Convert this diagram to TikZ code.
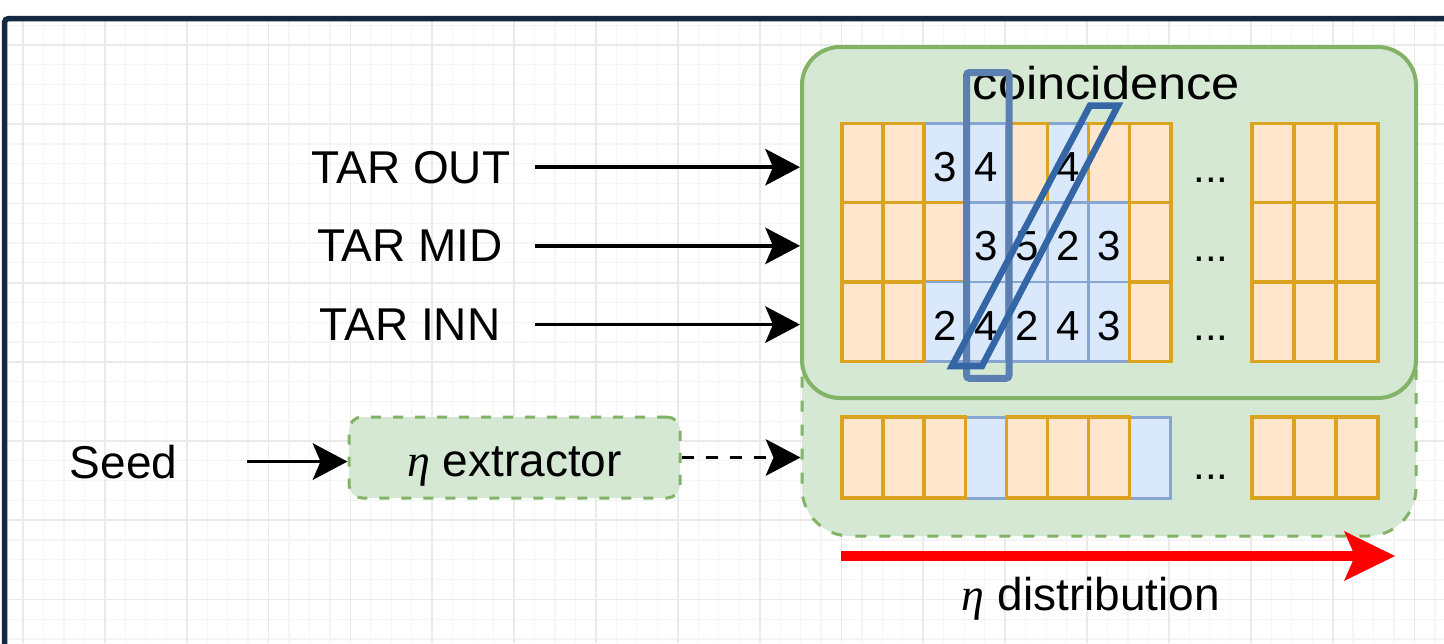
\documentclass[tikz,border=0pt]{standalone}
\usepackage{fontspec}
\setmainfont{Liberation Sans}
\newfontfamily\grkfont{Liberation Serif}
\newcommand{\myeta}{{\grkfont\itshape η}}
\usetikzlibrary{arrows.meta}
\definecolor{gfill}{HTML}{D5E8D4}
\definecolor{gline}{HTML}{82B366}
\definecolor{ofill}{HTML}{FFE6CC}
\definecolor{oline}{HTML}{DBA31F}
\definecolor{bfill}{HTML}{DAE8FC}
\definecolor{bline}{HTML}{86A5D0}
\definecolor{winA}{HTML}{5A7FB0}
\definecolor{winB}{HTML}{3465A4}
\definecolor{framecol}{HTML}{142841}
\definecolor{gridminor}{HTML}{F5F5F5}
\definecolor{gridmajor}{HTML}{EAEAEA}
\begin{document}
\begin{tikzpicture}[x=1pt,y=-1pt,
  lab/.style={font=\fontsize{46}{55}\selectfont, inner sep=0pt},
  arr/.style={line width=3.5pt, -{Stealth[length=35pt,width=37pt,inset=8pt,line width'=0pt]}},
  redarr/.style={draw=red, line width=10pt, -{Stealth[length=51pt,width=50pt,inset=11pt,line width'=0pt]}},
  gsolid/.style={draw=gline, fill=gfill, line width=4pt, rounded corners=38pt, inner sep=0pt},
  gdash/.style={draw=gline, fill=gfill, line width=3pt, dash pattern=on 11pt off 13pt, rounded corners=48pt, inner sep=0pt},
  etabox/.style={draw=gline, fill=gfill, line width=3pt, dash pattern=on 10pt off 12pt, rounded corners=13pt, inner sep=0pt,
     minimum width=331pt, minimum height=81pt, font=\fontsize{46}{55}\selectfont, text height=38.4pt, text depth=0pt},
  ocell/.style={draw=oline, fill=ofill, line width=3.5pt, minimum width=41.1pt, inner sep=0pt},
  bcell/.style={draw=bline, fill=bfill, line width=2.5pt, minimum width=41.1pt, inner sep=0pt,
     font=\fontsize{42}{50}\selectfont, text height=36.8pt, text depth=0pt},
  rowh/.style={minimum height=79.3pt},
  etah/.style={minimum height=81pt},
  dots/.style={font=\fontsize{42}{50}\selectfont, inner sep=0pt, anchor=base},
  win/.style={line width=7pt, rounded corners=3pt, inner sep=0pt}
]
\useasboundingbox (0,0) rectangle (1444,643);
\fill[white] (0,0) rectangle (1444,643);
% background grid
\begin{scope}
  \clip (7,21) rectangle (1444,643);
  \foreach \i in {0,...,71} \draw[gridminor, line width=1.2pt] ({2.54+20.4625*\i},21) -- ({2.54+20.4625*\i},643);
  \foreach \i in {0,...,32} \draw[gridminor, line width=1.2pt] (7,{25.2+19.8*\i}) -- (1444,{25.2+19.8*\i});
  \foreach \k in {0,...,17} \draw[gridmajor, line width=1.8pt] ({23+81.85*\k},21) -- ({23+81.85*\k},643);
  \foreach \k in {0,...,7} \draw[gridmajor, line width=1.8pt] (7,{45+79.2*\k}) -- (1444,{45+79.2*\k});
\end{scope}
% frame
\begin{scope}
  \clip (0,0) rectangle (1444,643);
  \draw[framecol, line width=5.5pt, rounded corners=4pt] (4.5,700) -- (4.5,18.5) -- (1500,18.5);
\end{scope}

% containers
\node[gdash, minimum width=614pt, minimum height=286pt] (dashbox) at (1109,393) {};
\node[gsolid, minimum width=614pt, minimum height=351pt] (bigbox) at (1109,222.5) {};

% row 1
\foreach \c/\t in {3/3,4/4,6/4} \node[bcell, rowh] (a1-\c) at ({842+41.1*(\c-0.5)},163) {\t};
\foreach \c in {1,2,5,7,8} \node[ocell, rowh] (a1-\c) at ({842+41.1*(\c-0.5)},163) {};
% row 2
\foreach \c/\t in {4/3,5/5,6/2,7/3} \node[bcell, rowh] (a2-\c) at ({842+41.1*(\c-0.5)},242.3) {\t};
\foreach \c in {1,2,3,8} \node[ocell, rowh] (a2-\c) at ({842+41.1*(\c-0.5)},242.3) {};
% row 3
\foreach \c/\t in {3/2,4/4,5/2,6/4,7/3} \node[bcell, rowh] (a3-\c) at ({842+41.1*(\c-0.5)},321.6) {\t};
\foreach \c in {1,2,8} \node[ocell, rowh] (a3-\c) at ({842+41.1*(\c-0.5)},321.6) {};
% right block
\foreach \r/\y in {1/163,2/242.3,3/321.6}
  \foreach \c in {1,2,3} \node[ocell, rowh, minimum width=42pt] (b\r-\c) at ({1252+42*(\c-0.5)},\y) {};
% eta row
\foreach \c in {4,8} \node[bcell, etah, line width=3pt] (e-\c) at ({842+41.1*(\c-0.5)},457.5) {};
\foreach \c in {1,2,3,5,6,7} \node[ocell, etah] (e-\c) at ({842+41.1*(\c-0.5)},457.5) {};
\foreach \c in {1,2,3} \node[ocell, etah, minimum width=42pt] (eb-\c) at ({1252+42*(\c-0.5)},457.5) {};

% ellipses
\node[dots] (d1) at (1211,182) {...};
\node[dots] (d2) at (1211,261.3) {...};
\node[dots] (d3) at (1211,340.6) {...};
\node[dots] (d4) at (1211,479) {...};

% title
\node[lab, anchor=base] (coin) at (1106.5,99.3) {\scalebox{1.1}[1]{coincidence}};

% coincidence windows
\node[win, draw=winA, minimum width=42.5pt, minimum height=305.8pt] (vwin) at (987.75,225.4) {};
\draw[winB, line width=6.5pt, line join=miter] (1090,105.5) -- (1118,105.5) -- (982,366) -- (952,366) -- cycle;

% labels
\node[lab, anchor=base] (tarout) at (411,183) {TAR OUT};
\node[lab, anchor=base] (tarmid) at (410,261.7) {TAR MID};
\node[lab, anchor=base] (tarinn) at (410,340.4) {TAR INN};
\node[lab, anchor=base] (seed) at (123.5,478) {Seed};
\node[etabox] (eta) at (514.5,457.5) {\myeta\ extractor};
\node[lab, anchor=base] (dist) at (1091,610) {\myeta\ distribution};

% connectors
\draw[arr] ([xshift=25pt]tarout.east) -- (tarout.east -| bigbox.west);
\draw[arr] ([xshift=32pt]tarmid.east) -- (tarmid.east -| bigbox.west);
\draw[arr] ([xshift=35pt]tarinn.east) -- (tarinn.east -| bigbox.west);
\draw[arr] ([xshift=70pt]seed.east) -- (seed.east -| eta.west);
\draw[arr, dash pattern=on 12pt off 12pt] (eta.east) -- (eta.east -| dashbox.west);
\coordinate (rs) at (841,556);
\coordinate (re) at (1395,556);
\draw[redarr] (rs) -- (re);
\end{tikzpicture}
\end{document}
